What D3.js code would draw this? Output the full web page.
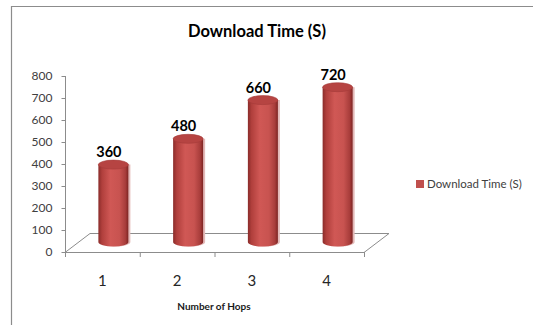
<!DOCTYPE html>
<html><head><meta charset="utf-8">
<script src="https://cdn.jsdelivr.net/npm/d3@7"></script>
<style>
html,body{margin:0;padding:0;background:#fff;}
svg{display:block;}
</style></head>
<body>
<script>
const categories = ["1", "2", "3", "4"];
const values = [360, 480, 660, 720];
const yTicks = [0, 100, 200, 300, 400, 500, 600, 700, 800];
const title = "Download Time (S)";
const seriesName = "Download Time (S)";
const xTitle = "Number of Hops";

const W = 533, H = 325;
const svg = d3.select("body").append("svg").attr("width", W).attr("height", H);
const font = "Lato, 'Open Sans', sans-serif";

// frame
svg.append("path").attr("d", `M11.5,${H} L11.5,6.5 L${W},6.5`).attr("fill","none").attr("stroke","#8c8c8c").attr("stroke-width",1.2);

const x = d3.scaleBand().domain(categories).range([65, 364]).padding(0);
const y = d3.scaleLinear().domain([0, 800]).range([252, 76]);
// value scale in the mid-depth plane (perspective shrinks it slightly)
const yDepth = d3.scaleLinear().domain([0, 800]).range([242, 70]);
const dx = 25, dy = 19;

// title
svg.append("text").attr("x", 257).attr("y", 37).attr("text-anchor","middle")
  .attr("font-family", font).attr("font-weight","bold").attr("font-size",16.5).attr("fill","#000").text(title);

// y axis
const yAxis = svg.append("g").attr("transform","translate(65.5,0)")
  .call(d3.axisLeft(y).tickValues(yTicks).tickSize(4).tickPadding(9).tickFormat(d3.format("d")));
yAxis.select(".domain").attr("stroke","#8c8c8c").attr("d", `M0,${y(800)}V${y(0)}`);
yAxis.selectAll(".tick line").attr("stroke","#8c8c8c");
yAxis.selectAll(".tick text").attr("font-family", font).attr("font-size",12).attr("fill","#404040");

// floor
const x0 = x.range()[0], x1 = x.range()[1], yb = y(0);
svg.append("path")
  .attr("d", `M${x0},${yb+0.5} L${x0+dx},${yb-dy+0.5} L${x1+dx},${yb-dy+0.5} L${x1},${yb+0.5} Z`)
  .attr("fill","none").attr("stroke","#8c8c8c").attr("stroke-width",1);

// x axis ticks at band boundaries
const bounds = categories.map(c => x(c)).concat([x1]);
svg.append("g").selectAll("line").data(bounds).join("line")
  .attr("x1", d => d + 0.5).attr("x2", d => d + 0.5).attr("y1", yb).attr("y2", yb + 5)
  .attr("stroke","#8c8c8c");
svg.append("g").selectAll("text").data(categories).join("text")
  .attr("x", d => x(d) + x.bandwidth()/2).attr("y", 286).attr("text-anchor","middle")
  .attr("font-family", font).attr("font-size",15).attr("fill","#262626").text(d => d);
svg.append("text").attr("x", 214).attr("y", 310).attr("text-anchor","middle")
  .attr("font-family", font).attr("font-weight","bold").attr("font-size",10).attr("fill","#1a1a1a").text(xTitle);

// gradient
const defs = svg.append("defs");
const g = defs.append("linearGradient").attr("id","cyl").attr("x1","0%").attr("x2","100%").attr("y1","0%").attr("y2","0%");
[[0,"#8a2c2a"],[0.12,"#b03f3c"],[0.4,"#d05855"],[0.7,"#c85350"],[0.9,"#a83d3b"],[1,"#7d2422"]]
  .forEach(([o,c]) => g.append("stop").attr("offset", o).attr("stop-color", c));

const rx = 15, ry = 4.5;
const bars = svg.append("g");
categories.forEach((c, i) => {
  const cx = x(c) + x.bandwidth()/2 + 11;
  const baseY = yDepth(0);
  const topY = yDepth(values[i]);
  const body = (ox) => `M${cx-rx+ox},${topY} L${cx-rx+ox},${baseY} A${rx},${ry} 0 0 0 ${cx+rx+ox},${baseY} L${cx+rx+ox},${topY} Z`;
  bars.append("path").attr("d", body(2)).attr("fill","#e3b9b8");
  bars.append("path").attr("d", body(0)).attr("fill","url(#cyl)");
  bars.append("ellipse").attr("cx", cx).attr("cy", topY).attr("rx", rx).attr("ry", ry)
    .attr("fill","#b64442").attr("stroke","#a53b39").attr("stroke-width",0.6);
  svg.append("text").attr("x", cx - 4.5).attr("y", topY - 7.5).attr("text-anchor","middle")
    .attr("font-family", font).attr("font-weight","bold").attr("font-size",14.5).attr("fill","#000").text(values[i]);
});

// legend
svg.append("rect").attr("x",416).attr("y",180).attr("width",8).attr("height",8).attr("fill","#c0504d");
svg.append("text").attr("x",427).attr("y",188).attr("font-family", font).attr("font-size",11.5).attr("fill","#404040").text(seriesName);
</script>
</body></html>
